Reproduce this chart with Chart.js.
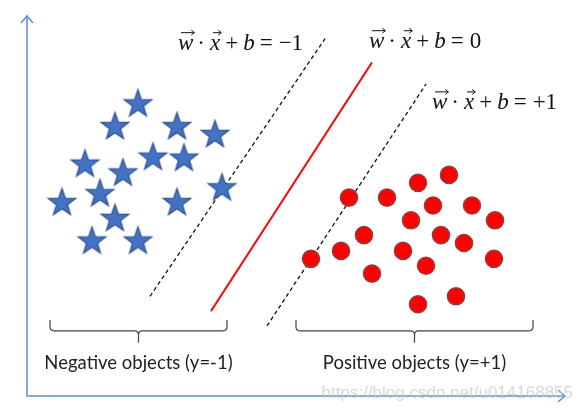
<!DOCTYPE html>
<html>
<head>
<meta charset="utf-8">
<script src="https://cdn.jsdelivr.net/npm/chart.js@4.4.0/dist/chart.umd.min.js"></script>
<style>
  html, body { margin: 0; padding: 0; background: #fff; }
</style>
</head>
<body>
<canvas id="svm" width="582" height="412"></canvas>
<script>
// negative class (stars)
const negX = [2.22, 1.76, 3.00, 3.76, 2.52, 3.14, 1.16, 1.92, 1.46, 3.90, 0.70, 3.00, 1.76, 1.30, 2.22];
const negY = [5.94, 5.48, 5.48, 5.32, 4.86, 4.84, 4.72, 4.54, 4.12, 4.24, 3.94, 3.94, 3.62, 3.16, 3.16];

// positive class (circles)
const posX = [6.44, 7.20, 7.82, 8.44, 8.12, 8.90, 7.68, 9.36, 6.74, 8.28, 8.74, 6.28, 7.52, 5.68, 9.34, 7.98, 6.90, 8.58, 7.82];
const posY = [4.02, 4.02, 4.32, 4.48, 3.86, 3.86, 3.56, 3.56, 3.26, 3.26, 3.10, 2.94, 2.94, 2.78, 2.78, 2.64, 2.48, 2.02, 1.86];

// hyperplane and margins (two end points each)
const marginNegX = [2.46, 5.96];
const marginNegY = [2.02, 7.24];
const planeX = [3.68, 6.90];
const planeY = [1.72, 6.76];
const marginPosX = [4.80, 7.98];
const marginPosY = [1.42, 6.32];

// group braces + captions
const groupLabels = ['Negative objects (y=-1)', 'Positive objects (y=+1)'];
const groupFrom = [0.46, 5.38];
const groupTo = [4.00, 10.12];

// equation right-hand sides
const eqValues = ['\u22121', '0', '+1'];

const toPts = (xs, ys) => xs.map((x, i) => ({x: x, y: ys[i]}));

function makeStar(r) {
  const c = document.createElement('canvas');
  const s = Math.ceil(r * 2 + 4);
  c.width = s; c.height = s;
  const g = c.getContext('2d');
  g.translate(s / 2, s / 2 + r * 0.095);
  g.beginPath();
  for (let i = 0; i < 10; i++) {
    const a = -Math.PI / 2 + i * Math.PI / 5;
    const rr = i % 2 ? r * 0.4 : r;
    g.lineTo(rr * Math.cos(a), rr * Math.sin(a));
  }
  g.closePath();
  g.fillStyle = '#4472c4';
  g.fill();
  g.strokeStyle = '#2f528f';
  g.lineWidth = 1.2;
  g.stroke();
  return c;
}

// where the annotations sit (data units)
const eqPos = [{x: 3.02, y: 7.18}, {x: 6.84, y: 7.22}, {x: 8.10, y: 5.98}];
const braceTop = 1.54, braceBot = 1.32, braceTip = 1.08, captionY = 0.66;

const SERIF = '"Liberation Serif", "Times New Roman", Times, serif';

function drawArrowHead(ctx, x, y, dir) {
  ctx.beginPath();
  if (dir === 'up') {
    ctx.moveTo(x - 6, y + 7); ctx.lineTo(x, y); ctx.lineTo(x + 6, y + 7);
  } else {
    ctx.moveTo(x - 7, y - 6); ctx.lineTo(x, y); ctx.lineTo(x - 7, y + 6);
  }
  ctx.stroke();
}

function drawVec(ctx, x, y, w) {
  // little arrow over a letter
  ctx.save();
  ctx.lineWidth = 1;
  ctx.strokeStyle = '#111';
  ctx.beginPath();
  ctx.moveTo(x + 2, y); ctx.lineTo(x + w, y);
  ctx.moveTo(x + w - 3, y - 2.5); ctx.lineTo(x + w, y); ctx.lineTo(x + w - 3, y + 2.5);
  ctx.stroke();
  ctx.restore();
}

function drawEquation(ctx, x, y, rhs) {
  const ital = 'italic 23px ' + SERIF;
  const reg = '23px ' + SERIF;
  const parts = [
    {t: 'w', f: ital, vec: true, gap: 4},
    {t: '\u00b7', f: reg, gap: 5},
    {t: 'x', f: ital, vec: true, gap: 5},
    {t: '+', f: reg, gap: 5},
    {t: 'b', f: ital, gap: 5},
    {t: '=', f: reg, gap: 6},
    {t: rhs, f: reg, gap: 0}
  ];
  ctx.save();
  ctx.fillStyle = '#111';
  ctx.textBaseline = 'alphabetic';
  ctx.textAlign = 'left';
  let cx = x;
  parts.forEach(p => {
    ctx.font = p.f;
    const w = ctx.measureText(p.t).width;
    ctx.fillText(p.t, cx, y + 8);
    if (p.vec) drawVec(ctx, cx + 1, y - 9, w);
    cx += w + p.gap;
  });
  ctx.restore();
}

function drawBrace(ctx, x0, x1, yT, yB, yP) {
  const xm = (x0 + x1) / 2;
  const k = 4;
  ctx.beginPath();
  ctx.moveTo(x0, yT);
  ctx.lineTo(x0, yB - k);
  ctx.quadraticCurveTo(x0, yB, x0 + k, yB);
  ctx.lineTo(xm - k, yB);
  ctx.quadraticCurveTo(xm, yB, xm, yB + k);
  ctx.lineTo(xm, yP);
  ctx.moveTo(xm, yB + k);
  ctx.quadraticCurveTo(xm, yB, xm + k, yB);
  ctx.lineTo(x1 - k, yB);
  ctx.quadraticCurveTo(x1, yB, x1, yB - k);
  ctx.lineTo(x1, yT);
  ctx.stroke();
}

const decor = {
  id: 'decor',
  beforeDatasetsDraw(chart) {
    const ctx = chart.ctx;
    const xs = chart.scales.x, ys = chart.scales.y;
    const x0 = xs.getPixelForValue(0), y0 = ys.getPixelForValue(0);
    const xEnd = xs.getPixelForValue(xs.max), yEnd = ys.getPixelForValue(ys.max);

    // axes with open arrow heads
    ctx.save();
    ctx.strokeStyle = '#5b8fd0';
    ctx.lineWidth = 1.5;
    ctx.beginPath();
    ctx.moveTo(x0, yEnd); ctx.lineTo(x0, y0); ctx.lineTo(xEnd, y0);
    ctx.stroke();
    drawArrowHead(ctx, x0, yEnd, 'up');
    drawArrowHead(ctx, xEnd, y0, 'right');
    ctx.restore();

    // braces and captions
    ctx.save();
    ctx.strokeStyle = '#444';
    ctx.lineWidth = 1.2;
    groupLabels.forEach((lab, i) => {
      const a = xs.getPixelForValue(groupFrom[i]);
      const b = xs.getPixelForValue(groupTo[i]);
      drawBrace(ctx, a, b, ys.getPixelForValue(braceTop), ys.getPixelForValue(braceBot), ys.getPixelForValue(braceTip));
      ctx.fillStyle = '#222';
      ctx.font = '18.5px Lato, "Open Sans", sans-serif';
      ctx.textAlign = 'center';
      ctx.textBaseline = 'middle';
      ctx.fillText(lab, (a + b) / 2, ys.getPixelForValue(captionY));
    });
    ctx.restore();

    // equations
    eqValues.forEach((v, i) => {
      drawEquation(ctx, xs.getPixelForValue(eqPos[i].x), ys.getPixelForValue(eqPos[i].y), v);
    });

    // faint watermark
    ctx.save();
    ctx.fillStyle = 'rgba(200,200,200,0.7)';
    ctx.font = '17px "Liberation Sans", sans-serif';
    ctx.textAlign = 'right';
    ctx.textBaseline = 'middle';
    ctx.fillText('https://blog.csdn.net/u014168855', 573, 393);
    ctx.restore();
  }
};

const starImg = makeStar(14.5);

new Chart(document.getElementById('svm'), {
  type: 'scatter',
  data: {
    datasets: [
      {
        label: 'negative',
        data: toPts(negX, negY),
        pointStyle: starImg,
        pointRadius: 15
      },
      {
        label: 'positive',
        data: toPts(posX, posY),
        pointStyle: 'circle',
        pointRadius: 8.5,
        backgroundColor: '#ff0000',
        borderColor: '#9a3a3a',
        borderWidth: 1.6
      },
      {
        label: 'w.x+b=-1',
        data: toPts(marginNegX, marginNegY),
        showLine: true,
        pointRadius: 0,
        borderColor: '#111',
        borderWidth: 1.3,
        borderDash: [4, 3]
      },
      {
        label: 'w.x+b=0',
        data: toPts(planeX, planeY),
        showLine: true,
        pointRadius: 0,
        borderColor: '#ee1111',
        borderWidth: 2
      },
      {
        label: 'w.x+b=+1',
        data: toPts(marginPosX, marginPosY),
        showLine: true,
        pointRadius: 0,
        borderColor: '#111',
        borderWidth: 1.3,
        borderDash: [4, 3]
      }
    ]
  },
  options: {
    responsive: false,
    animation: false,
    events: [],
    layout: { padding: { left: 27, right: 17, top: 14, bottom: 13 } },
    scales: {
      x: { type: 'linear', min: 0, max: 10.76, display: false },
      y: { type: 'linear', min: 0, max: 7.7, display: false }
    },
    plugins: {
      legend: { display: false },
      tooltip: { enabled: false }
    }
  },
  plugins: [decor]
});
</script>
</body>
</html>
